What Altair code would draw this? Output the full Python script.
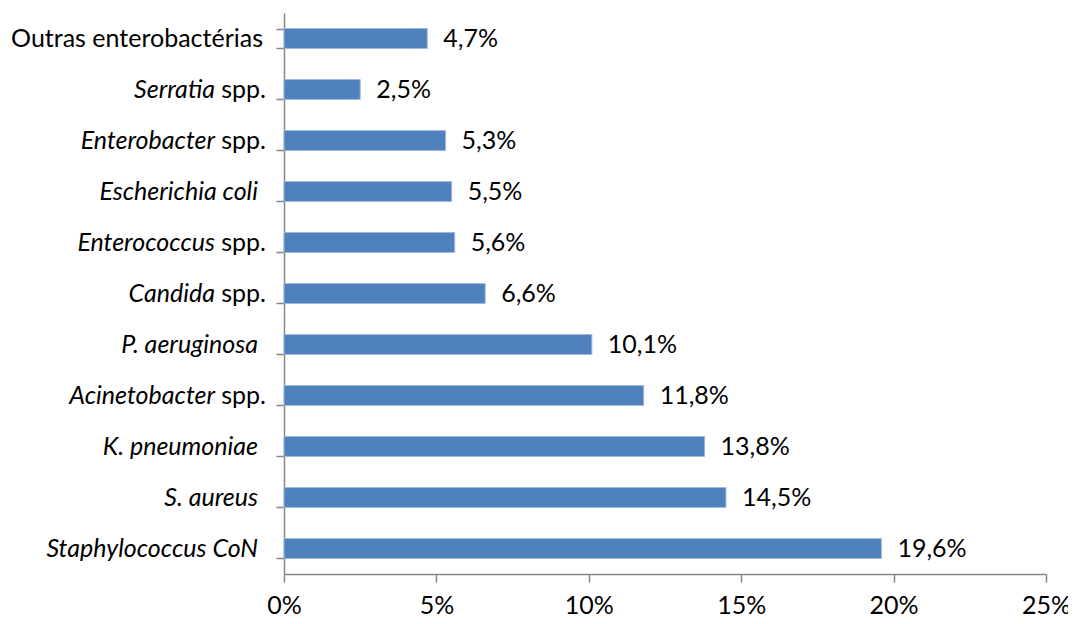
import altair as alt
import pandas as pd

# Label parts (italic part, roman part) from top to bottom
italic_parts = ["", "Serratia", "Enterobacter", "Escherichia coli", "Enterococcus",
                "Candida", "P. aeruginosa", "Acinetobacter", "K. pneumoniae",
                "S. aureus", "Staphylococcus CoN"]
roman_parts = ["Outras enterobactérias", "spp.", "spp.", "", "spp.", "spp.", "",
               "spp.", "", "", ""]
values = [4.7, 2.5, 5.3, 5.5, 5.6, 6.6, 10.1, 11.8, 13.8, 14.5, 19.6]
x_ticks = [0, 5, 10, 15, 20, 25]

cats = [f"{i}|{r}" for i, r in zip(italic_parts, roman_parts)]
df = pd.DataFrame({"cat": cats, "ital": italic_parts, "rom": roman_parts, "v": values})
df["kind"] = ["roman" if i == "" else ("mixed" if r else "italic")
              for i, r in zip(italic_parts, roman_parts)]

FONT = "Lato"
FS = 25
AX = "#868686"

y_enc = alt.Y("cat:N", sort=cats, title=None,
              axis=alt.Axis(labels=False, ticks=True, tickBand="extent", tickSize=8,
                            tickColor=AX, domainColor=AX, domainWidth=1.5, tickWidth=1.5),
              scale=alt.Scale(paddingInner=0.61, paddingOuter=0.305))

base = alt.Chart(df)

bars = base.mark_bar(color="#4F81BD", stroke="#9DB9DC", strokeWidth=1).encode(
    x=alt.X("v:Q", title=None,
            scale=alt.Scale(domain=[0, 25], nice=False),
            axis=alt.Axis(values=x_ticks, labelExpr="datum.value + '%'", grid=False,
                          tickSize=8, tickColor=AX, domainColor=AX, domainWidth=1.5,
                          tickWidth=1.5, labelFont=FONT, labelFontSize=FS,
                          labelColor="black", labelPadding=11, labelFlush=False,
                          labelOverlap=False)),
    y=y_enc,
)

vals = base.transform_calculate(
    lab="replace(format(datum.v, '.1f'), '.', ',') + '%'"
).mark_text(font=FONT, fontSize=FS, align="left", baseline="middle", dx=16, color="black").encode(
    x="v:Q", y=alt.Y("cat:N", sort=cats), text="lab:N")

def lab(kind, field, style, xpos):
    return base.transform_filter(alt.datum.kind == kind).mark_text(
        font=FONT, fontSize=FS, align="right", baseline="middle",
        fontStyle=style, color="black").encode(
        x=alt.value(xpos), y=alt.Y("cat:N", sort=cats), text=f"{field}:N")

RIGHT = -18
layers = [
    bars, vals,
    lab("roman", "rom", "normal", RIGHT - 3),
    lab("mixed", "rom", "normal", RIGHT),
    lab("mixed", "ital", "italic", RIGHT - 51),
    lab("italic", "ital", "italic", RIGHT - 8),
]

chart = alt.layer(*layers).properties(
    width=762, height=561,
    padding={"left": 276, "top": 5, "right": 22, "bottom": 42},
    autosize=alt.AutoSizeParams(type="none"),
    background="white",
).configure_view(stroke="transparent")

chart.save("out.html", embed_options={"renderer": "svg", "actions": False})
